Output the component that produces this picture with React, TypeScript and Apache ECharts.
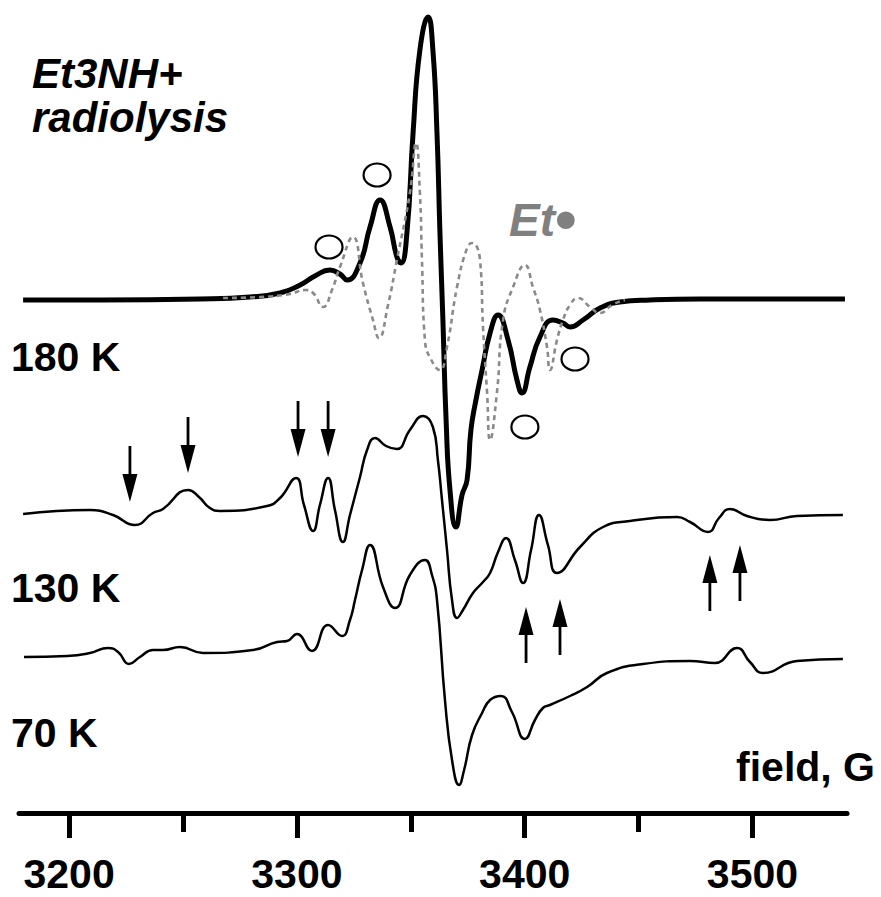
import { useEffect, useRef } from 'react';
import * as echarts from 'echarts';

// Magnetic field range of the sweep (G) and the tick positions
const FIELD_MIN = 3178;
const FIELD_MAX = 3541.5;
const majorTicks = [3200, 3300, 3400, 3500];
const minorTicks = [3250, 3350, 3450];

// 180 K spectrum (thick trace)
const field180 = [
  3179.8, 3213.6, 3257.5, 3279.4, 3292.6, 3301.4, 3307.9, 3314.5, 3318.9, 3322.0,
  3327.7, 3332.1, 3336.5, 3340.9, 3343.9, 3345.7, 3348.3, 3351.0, 3354.0, 3357.6,
  3359.7, 3361.5, 3362.8, 3364.1, 3365.5, 3367.2, 3369.8, 3372.5, 3374.7, 3376.4,
  3378.6, 3381.3, 3384.8, 3388.3, 3392.7, 3396.6, 3398.8, 3402.3, 3406.7, 3412.4,
  3416.8, 3419.9, 3425.6, 3433.1, 3441.8, 3455.0, 3477.0, 3540.6,
];
const signal180 = [
  0, 0, 1, 3, 7, 15, 24, 30, 26, 20,
  37, 73, 100, 73, 43, 37, 67, 167, 250, 283,
  250, 167, 67, -20, -120, -190, -227, -195, -180, -130,
  -100, -70, -33, -15, -40, -80, -93, -67, -37, -20,
  -23, -27, -20, -8, -2, 0, 1, 1,
];

// Simulated Et• radical spectrum (dotted grey trace)
const fieldEt = [
  3267.6, 3283.8, 3297.0, 3303.6, 3307.1, 3311.5, 3315.4, 3318.9, 3324.6, 3329.0,
  3333.4, 3336.0, 3340.0, 3343.9, 3349.6, 3352.3, 3354.0, 3354.9, 3356.2, 3359.7,
  3362.8, 3365.9, 3370.3, 3374.7, 3376.9, 3380.4, 3381.7, 3383.5, 3384.8, 3387.8,
  3390.5, 3394.9, 3400.1, 3403.6, 3406.7, 3409.8, 3411.1, 3414.2, 3416.8, 3419.9,
  3423.4, 3428.7, 3433.1, 3438.3, 3444.0,
];
const signalEt = [
  2, 3, 6, 10, 7, -7, 10, 33, 63, 17,
  -20, -38, -5, 40, 107, 157, 107, 40, -40, -63,
  -70, -47, 13, 52, 57, 40, -27, -93, -140, -93,
  -20, 13, 35, 13, -10, -47, -70, -40, -20, -5,
  2, -7, -13, -5, 0,
];

// 130 K spectrum
const field130 = [
  3179.8, 3209.2, 3219.3, 3228.9, 3236.8, 3241.2, 3252.2, 3257.0, 3261.8, 3266.2,
  3286.9, 3292.6, 3299.6, 3303.1, 3307.1, 3310.1, 3313.7, 3316.7, 3320.2, 3323.3,
  3327.7, 3330.8, 3334.3, 3339.1, 3343.9, 3349.6, 3355.4, 3359.7, 3361.9, 3363.7,
  3365.9, 3368.1, 3370.3, 3372.9, 3377.3, 3381.7, 3384.8, 3388.3, 3391.8, 3395.7,
  3399.3, 3402.8, 3406.3, 3410.2, 3414.2, 3424.3, 3434.4, 3446.2, 3466.9, 3472.6,
  3480.5, 3485.3, 3490.1, 3497.6, 3507.7, 3519.5, 3539.7,
];
const signal130 = [
  0, 4, -1, -11, 1, 5, 24, 17, 6, 3,
  8, 16, 36, 9, -17, 9, 36, 4, -28, -1,
  37, 64, 76, 68, 65, 84, 98, 87, 54, 14,
  -36, -86, -104, -96, -79, -68, -59, -38, -24, -46,
  -69, -36, -1, -31, -59, -33, -13, -7, -3, -8,
  -18, -4, 5, -2, -6, -2, -1,
];

// 70 K spectrum
const field70 = [
  3180.2, 3199.1, 3209.2, 3217.1, 3221.5, 3226.3, 3231.1, 3236.8, 3241.2, 3248.7,
  3258.8, 3280.7, 3291.3, 3295.7, 3300.0, 3306.6, 3313.7, 3319.8, 3323.3, 3325.5,
  3328.6, 3332.1, 3337.8, 3343.1, 3349.6, 3356.2, 3359.3, 3361.5, 3365.0, 3368.1,
  3371.2, 3373.4, 3376.9, 3381.3, 3384.8, 3389.6, 3394.4, 3400.1, 3404.5, 3408.0,
  3411.1, 3419.9, 3427.4, 3436.1, 3451.9, 3472.6, 3483.5, 3493.2, 3498.9, 3504.6,
  3519.5, 3539.7,
];
const signal70 = [
  0, 1, 4, 9, 5, -7, 0, 7, 7, 10,
  4, 7, 15, 16, 23, 6, 32, 21, 37, 57,
  87, 112, 70, 49, 82, 97, 82, 57, -43, -103,
  -128, -113, -78, -56, -43, -39, -55, -82, -63, -51,
  -48, -39, -30, -16, -7, -4, -6, 9, -5, -16,
  -4, -2,
];

// Vertical stacking of the three temperatures
const BASE180 = 513;
const BASE130 = 299;
const BASE70 = 156;

// Open-circle markers on the 180 K spectrum: [field, signal]
const circleMarks180 = [
  [3314.1, 53],
  [3335.2, 125],
  [3400.1, -127],
  [3422.1, -59],
];

// Arrow tips marking lines of the 130 K spectrum: [field, signal]
const downArrows130 = [
  [3226.7, 12],
  [3252.2, 41],
  [3300.5, 57],
  [3313.7, 57],
];
const upArrows130 = [
  [3400.6, -93],
  [3415.5, -85],
  [3481.3, -41],
  [3494.5, -31],
];

const FONT = '"Liberation Sans", Arial, Helvetica, sans-serif';

function pairs(field: number[], signal: number[], base: number) {
  return field.map((f, i) => [f, signal[i] + base]);
}

export default function App() {
  const ref = useRef<HTMLDivElement>(null);

  useEffect(() => {
    if (!ref.current) return;
    const chart = echarts.init(ref.current, null, { renderer: 'svg' });

    const traceStyle = (width: number, color = '#000', type: any = 'solid') => ({
      color,
      width,
      type,
      cap: 'butt',
      join: 'round',
    });

    const SMOOTH = 0.5;

    chart.setOption({
      animation: false,
      backgroundColor: '#fff',
      grid: { left: 19, right: 34, top: 13, bottom: 84, containLabel: false },
      xAxis: [
        {
          type: 'value',
          position: 'bottom',
          min: FIELD_MIN,
          max: FIELD_MAX,
          axisLine: { show: true, lineStyle: { color: '#000', width: 5 } },
          axisTick: {
            show: true,
            length: 25,
            customValues: majorTicks,
            lineStyle: { color: '#000', width: 5 },
          },
          axisLabel: {
            show: true,
            customValues: majorTicks,
            margin: 40,
            color: '#000',
            fontSize: 41,
            fontWeight: 'bold',
            fontFamily: FONT,
            formatter: (v: number) => String(v),
          },
          splitLine: { show: false },
        },
        {
          type: 'value',
          position: 'bottom',
          min: FIELD_MIN,
          max: FIELD_MAX,
          axisLine: { show: false },
          axisTick: {
            show: true,
            length: 19,
            customValues: minorTicks,
            lineStyle: { color: '#000', width: 5 },
          },
          axisLabel: { show: false },
          splitLine: { show: false },
        },
      ],
      yAxis: { type: 'value', min: 0, max: 800, show: false },
      series: [
        {
          name: '70 K',
          type: 'line',
          data: pairs(field70, signal70, BASE70),
          symbol: 'none',
          smooth: SMOOTH,
          lineStyle: traceStyle(2.5),
          z: 2,
        },
        {
          name: '130 K',
          type: 'line',
          data: pairs(field130, signal130, BASE130),
          symbol: 'none',
          smooth: SMOOTH,
          lineStyle: traceStyle(2.5),
          z: 3,
        },
        {
          name: '180 K',
          type: 'line',
          data: pairs(field180, signal180, BASE180),
          symbol: 'none',
          smooth: SMOOTH,
          lineStyle: traceStyle(5),
          z: 4,
        },
        {
          name: 'Et•',
          type: 'line',
          data: pairs(fieldEt, signalEt, BASE180),
          symbol: 'none',
          smooth: SMOOTH,
          lineStyle: traceStyle(2.6, '#8a8a8a', [5, 4]),
          z: 5,
        },
      ],
    });

    const toPx = (f: number, v: number) =>
      chart.convertToPixel({ seriesIndex: 0 }, [f, v]) as number[];

    const graphics: any[] = [];

    // open circles on the 180 K trace
    circleMarks180.forEach(([f, s]) => {
      const [cx, cy] = toPx(f, s + BASE180);
      graphics.push({
        type: 'ellipse',
        shape: { cx, cy, rx: 13.5, ry: 11.5 },
        style: { fill: 'none', stroke: '#000', lineWidth: 2.2 },
        z: 10,
      });
    });

    // arrows pointing at lines of the 130 K trace
    const ARROW_LEN = 56;
    const HEAD_LEN = 28;
    const HEAD_HALF = 7.5;
    const arrow = (f: number, s: number, dir: 1 | -1) => {
      const [x, tipY] = toPx(f, s + BASE130);
      // dir = 1: arrow pointing down, dir = -1: arrow pointing up
      const tailY = tipY - dir * ARROW_LEN;
      const baseY = tipY - dir * (HEAD_LEN - 2);
      graphics.push({
        type: 'line',
        shape: { x1: x, y1: tailY, x2: x, y2: baseY },
        style: { stroke: '#000', lineWidth: 2.8 },
        z: 10,
      });
      graphics.push({
        type: 'polygon',
        shape: {
          points: [
            [x - HEAD_HALF, tipY - dir * HEAD_LEN],
            [x + HEAD_HALF, tipY - dir * HEAD_LEN],
            [x, tipY],
          ],
        },
        style: { fill: '#000' },
        z: 10,
      });
    };
    downArrows130.forEach(([f, s]) => arrow(f, s, 1));
    upArrows130.forEach(([f, s]) => arrow(f, s, -1));

    const label = (text: string, x: number, y: number, font: string, fill = '#000', align = 'left', rich?: any) => ({
      type: 'text',
      x,
      y,
      z: 20,
      style: {
        text,
        font,
        fill,
        align,
        textAlign: align,
        verticalAlign: 'middle',
        textVerticalAlign: 'middle',
        ...(rich ? { rich } : {}),
      },
    });

    graphics.push(label('Et3NH+', 32, 73.5, `italic bold 42px ${FONT}`));
    graphics.push(label('radiolysis', 32, 117, `italic bold 42px ${FONT}`));
    graphics.push(
      label('{e|Et}{d|•}', 509, 220, `italic bold 46px ${FONT}`, '#808080', 'left', {
        e: { font: `italic bold 46px ${FONT}`, fill: '#808080', color: '#808080' },
        d: { font: `bold 62px ${FONT}`, fill: '#808080', color: '#808080', padding: [0, 0, 3, 0] },
      })
    );
    graphics.push(label('180 K', 11, 356.5, `bold 41px ${FONT}`));
    graphics.push(label('130 K', 11, 588, `bold 41px ${FONT}`));
    graphics.push(label('70 K', 11, 733, `bold 41px ${FONT}`));
    graphics.push(label('field, G', 875, 767, `bold 41px ${FONT}`, '#000', 'right'));

    chart.setOption({ graphic: graphics });

    return () => chart.dispose();
  }, []);

  return (
    <div
      ref={ref}
      style={{ position: 'fixed', left: 0, top: 0, width: 881, height: 897, background: '#fff' }}
    />
  );
}
